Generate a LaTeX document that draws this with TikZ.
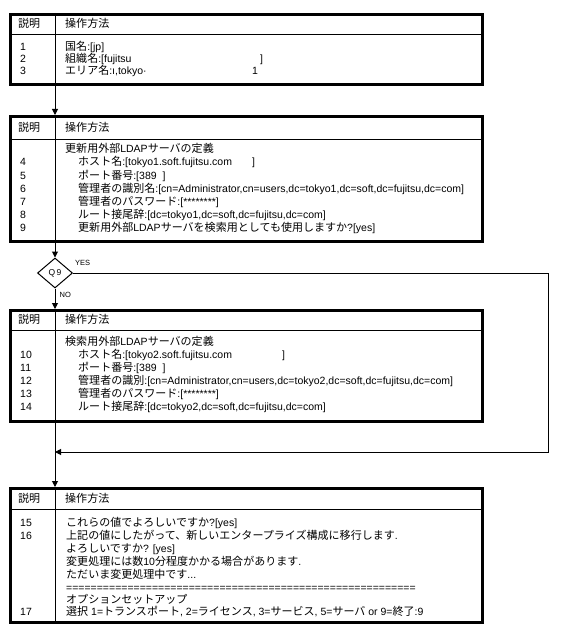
\documentclass[tikz,border=0pt]{standalone}
\usepackage{fontspec}
\setmainfont{Liberation Sans}
\newfontfamily\jp{Noto Sans CJK JP}[Scale=1.05]
\usetikzlibrary{arrows.meta,shapes.geometric}
\newcommand\J[1]{{\jp #1}}
\begin{document}
\begin{tikzpicture}[x=1pt,y=-1pt,
  box/.style={draw, line width=3pt, inner sep=0pt, anchor=north west, minimum width=472pt},
  thinline/.style={line width=1pt},
  txt/.style={anchor=base west, inner sep=0pt, font=\fontsize{10.5}{12}\selectfont},
  flow/.style={line width=1pt, -{Triangle[length=6pt,width=6pt]}},
  lbl/.style={anchor=base west, inner sep=0pt, font=\fontsize{7.5}{9}\selectfont}]
\useasboundingbox (0,0) rectangle (566,639);

% ---------- box 1
\node[box, minimum height=70pt] (B1) at (9,13) {};
\draw[thinline] (9,35) -- (481,35);
\draw[thinline] (55,13) -- (55,83);
\node[txt] (h1a) at (18,28) {\J{説明}};
\node[txt] (h1b) at (65,28) {\J{操作方法}};
\node[txt] (n1) at (20,51) {1};
\node[txt] (l1) at (65,51) {\J{国名}:[jp]};
\node[txt] (n2) at (20,63) {2};
\node[txt] (l2) at (65,63) {\makebox[195pt][l]{\J{組織名}:[fujitsu}]};
\node[txt] (n3) at (20,75) {3};
\node[txt] (l3) at (65,75) {\makebox[187pt][l]{\J{エリア名}:ı,tokyo·}1};

% ---------- box 2
\node[box, minimum height=125pt] (B2) at (9,115) {};
\draw[thinline] (9,140) -- (481,140);
\draw[thinline] (55,115) -- (55,240);
\node[txt] (h2a) at (18,132) {\J{説明}};
\node[txt] (h2b) at (65,132) {\J{操作方法}};
\node[txt] (l4h) at (65,153) {\J{更新用外部}LDAP\J{サーバの定義}};
\node[txt] (n4) at (20,166) {4};
\node[txt] (l4) at (78,166) {\J{ホスト名}:[tokyo1.soft.fujitsu.com\hspace{20pt}]};
\node[txt] (n5) at (20,179) {5};
\node[txt] (l5) at (78,179) {\J{ポート番号}:[389\hspace{6pt}]};
\node[txt] (n6) at (20,192) {6};
\node[txt] (l6) at (78,192) {\J{管理者の識別名}:[cn=Administrator,cn=users,dc=tokyo1,dc=soft,dc=fujitsu,dc=com]};
\node[txt] (n7) at (20,205) {7};
\node[txt] (l7) at (78,205) {\J{管理者のパスワード}:[********]};
\node[txt] (n8) at (20,218) {8};
\node[txt] (l8) at (78,218) {\J{ルート接尾辞}:[dc=tokyo1,dc=soft,dc=fujitsu,dc=com]};
\node[txt] (n9) at (20,231) {9};
\node[txt] (l9) at (78,231) {\J{更新用外部}LDAP\J{サーバを検索用としても使用しますか}?[yes]};

% ---------- decision
\node[draw, thinline, diamond, minimum width=35pt, minimum height=30pt, inner sep=0pt,
      font=\fontsize{8.5}{10}\selectfont] (Q) at (55,273) {Q\,9};
\node[lbl] (yes) at (75,265.5) {YES};
\node[lbl] (no) at (59.5,297.5) {NO};

% ---------- box 3
\node[box, minimum height=111pt] (B3) at (9,309) {};
\draw[thinline] (9,330) -- (481,330);
\draw[thinline] (55,309) -- (55,420);
\node[txt] (h3a) at (18,323) {\J{説明}};
\node[txt] (h3b) at (65,323) {\J{操作方法}};
\node[txt] (l10h) at (65,345.5) {\J{検索用外部}LDAP\J{サーバの定義}};
\node[txt] (n10) at (20,358.5) {10};
\node[txt] (l10) at (78,358.5) {\J{ホスト名}:[tokyo2.soft.fujitsu.com\hspace{50pt}]};
\node[txt] (n11) at (20,371.5) {11};
\node[txt] (l11) at (78,371.5) {\J{ポート番号}:[389\hspace{6pt}]};
\node[txt] (n12) at (20,384.5) {12};
\node[txt] (l12) at (78,384.5) {\J{管理者の識別}:[cn=Administrator,cn=users,dc=tokyo2,dc=soft,dc=fujitsu,dc=com]};
\node[txt] (n13) at (20,397.5) {13};
\node[txt] (l13) at (78,397.5) {\J{管理者のパスワード}:[********]};
\node[txt] (n14) at (20,410) {14};
\node[txt] (l14) at (78,410) {\J{ルート接尾辞}:[dc=tokyo2,dc=soft,dc=fujitsu,dc=com]};

% ---------- box 4
\node[box, minimum height=134pt] (B4) at (9,487) {};
\draw[thinline] (9,509) -- (481,509);
\draw[thinline] (55,487) -- (55,621);
\node[txt] (h4a) at (18,502) {\J{説明}};
\node[txt] (h4b) at (65,502) {\J{操作方法}};
\node[txt] (n15) at (20,526) {15};
\node[txt] (l15) at (66,526) {\J{これらの値でよろしいですか}?[yes]};
\node[txt] (n16) at (20,539) {16};
\node[txt] (l16) at (66,539) {\J{上記の値にしたがって、新しいエンタープライズ構成に移行します}.};
\node[txt] (l16b) at (66,552) {\J{よろしいですか}? [yes]};
\node[txt] (l16c) at (66,565) {\J{変更処理には数}10\J{分程度かかる場合があります}.};
\node[txt] (l16d) at (66,578) {\J{ただいま変更処理中です}...};
\node[txt] (l16e) at (66,591) {=========================================================};
\node[txt] (l17h) at (66,603) {\J{オプションセットアップ}};
\node[txt] (n17) at (20,615) {17};
\node[txt] (l17) at (66,615) {\J{選択} 1=\J{トランスポート}, 2=\J{ライセンス}, 3=\J{サービス}, 5=\J{サーバ} or 9=\J{終了}:9};

% ---------- connectors
\coordinate (R1) at (548,452);
\coordinate (join) at (55,452);
\draw[flow] ([xshift=46pt]B1.south west) -- ([xshift=46pt]B2.north west);
\draw[flow] ([xshift=46pt]B2.south west) -- (Q.north);
\draw[flow] (Q.south) -- ([xshift=46pt]B3.north west);
\draw[flow] (Q.east) -- (Q.east -| R1) -- (R1) -- (join);
\draw[flow] ([xshift=46pt]B3.south west) -- ([xshift=46pt]B4.north west);
\end{tikzpicture}
\end{document}
